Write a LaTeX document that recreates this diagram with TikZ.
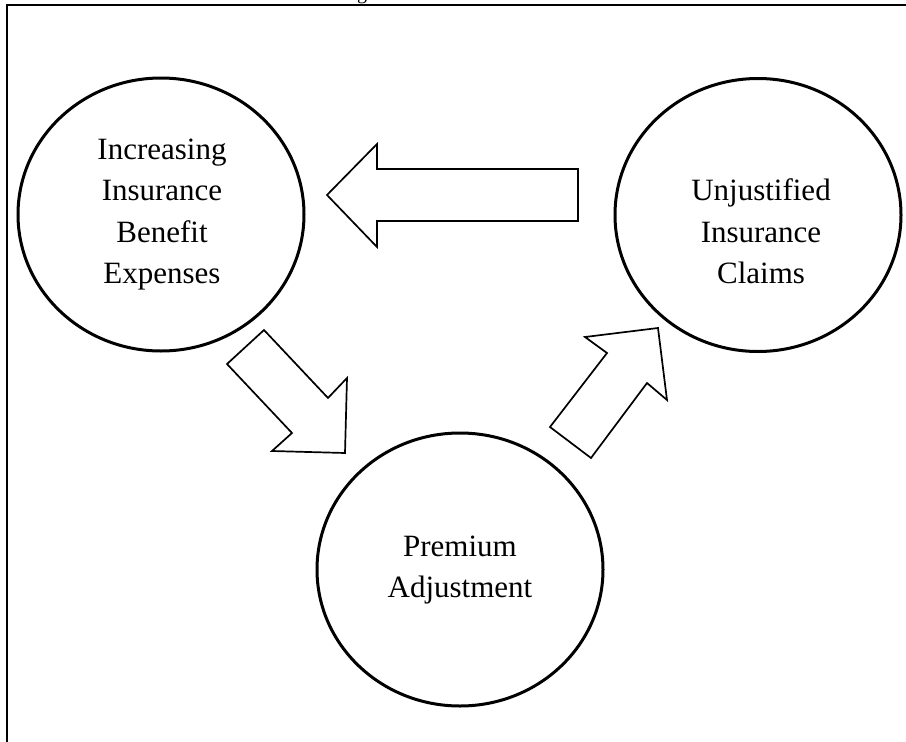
\documentclass[tikz,border=0pt]{standalone}
\usepackage{fontspec}
\setmainfont{Liberation Serif}
\usetikzlibrary{shapes.geometric}
\begin{document}
\begin{tikzpicture}[x=1pt,y=-1pt,
  circ/.style={ellipse,draw=black,line width=3pt,minimum width=286pt,minimum height=273pt,inner sep=0pt},
  lbl/.style={align=center,inner sep=0pt,font=\fontsize{31}{41.5}\selectfont},
  blockarrow/.style={draw=black,line width=1.7pt,fill=white,line join=miter}]
\useasboundingbox (0,0) rectangle (906,742);
\clip (0,0) rectangle (906,742);
\fill[white] (0,0) rectangle (906,742);
% frame
\coordinate (fbl) at (7,760);
\coordinate (ftl) at (7,5);
\coordinate (ftr) at (920,5);
\draw[line width=2.2pt] (fbl) -- (ftl) -- (ftr);
\node[anchor=base,inner sep=0pt,font=\fontsize{20}{24}\selectfont] (cap) at (362,-1) {g};
% circles
\node[circ] (ibe) at (161,214.5) {};
\node[circ] (uic) at (758,215) {};
\node[circ] (pa) at (460,569.5) {};
% labels
\node[lbl] (ibet) at (162,214.5) {Increasing\\Insurance\\Benefit\\Expenses};
\node[lbl] (uict) at (761,231.5) {Unjustified\\Insurance\\Claims};
\node[lbl] (pat) at (460,570) {Premium\\Adjustment};
% block arrows
\draw[blockarrow] (327,195) -- (377,144) -- (377,169) -- (578,169) -- (578,221) -- (377,221) -- (377,247) -- cycle;
\draw[blockarrow] (264,330) -- (328,398) -- (347,378) -- (345,453) -- (272,451) -- (292,433) -- (227,364) -- cycle;
\draw[blockarrow] (550,427) -- (607,353) -- (585,337) -- (658,328) -- (667,400) -- (647,383) -- (591,458) -- cycle;
\end{tikzpicture}
\end{document}
